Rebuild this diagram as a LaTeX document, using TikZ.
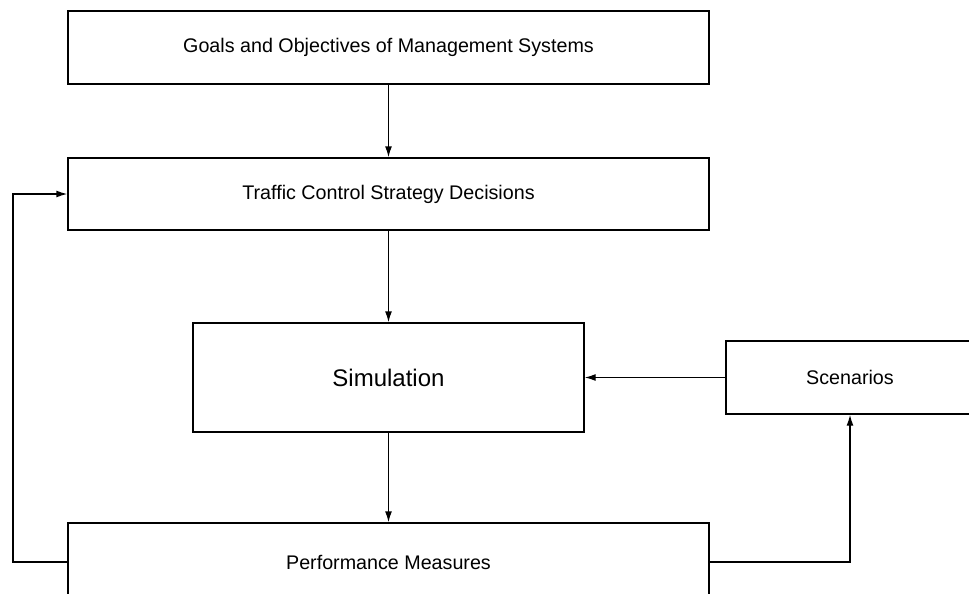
\documentclass[tikz,border=0pt]{standalone}
\usepackage{fontspec}
\setmainfont{Liberation Sans}
\usetikzlibrary{arrows.meta,positioning}

\begin{document}
\begin{tikzpicture}[x=1pt, y=-1pt,
    block/.style={draw, line width=1.4pt, inner sep=0pt, font=\fontsize{19.7}{22}\selectfont},
    flow/.style={line width=1.4pt, -{Latex[length=11pt,width=7pt]}}]
    % Frame
    \useasboundingbox (0,0) rectangle (969,594);
    \clip (0,0) rectangle (969,594);

    % Boxes
    \node[block, minimum width=641, minimum height=73] (goals) at (388.5,47.5)
      {Goals and Objectives of Management Systems};
    \node[block, minimum width=641, minimum height=72] (traffic) at (388.5,194)
      {Traffic Control Strategy Decisions};
    \node[block, minimum width=391, minimum height=109,
      font=\fontsize{24}{28}\selectfont] (sim) at (388.5,377.5) {Simulation};
    \node[block, minimum width=248, minimum height=73] (scen) at (850,377.5)
      {Scenarios};
    \node[block, minimum width=641, minimum height=78] (perf) at (388.5,562)
      {Performance Measures};

    % Feedback corner
    \coordinate (fb) at (13,562);

    % Arrows
    \draw[flow] (goals) -- (traffic);
    \draw[flow] (traffic) -- (sim);
    \draw[flow] (sim) -- (perf);
    \draw[flow] (scen) -- (sim);
    \draw[flow] (perf.east) -| (scen.south);
    \draw[flow] (perf.west) -- (fb) |- (traffic.west);
  \end{tikzpicture}
\end{document}
